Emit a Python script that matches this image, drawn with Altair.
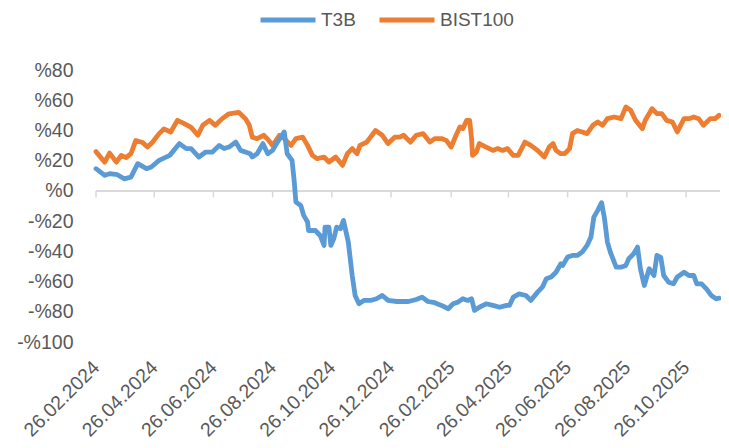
import altair as alt
import pandas as pd

# ---------------- data ----------------
T3B_DATES = [
    "2024-02-26", "2024-03-06", "2024-03-11", "2024-03-19", "2024-03-26", "2024-04-02",
    "2024-04-09", "2024-04-18", "2024-04-23", "2024-05-01", "2024-05-12", "2024-05-22",
    "2024-05-29", "2024-06-03", "2024-06-11", "2024-06-18", "2024-06-25", "2024-07-02",
    "2024-07-07", "2024-07-12", "2024-07-19", "2024-07-24", "2024-08-03", "2024-08-05",
    "2024-08-10", "2024-08-16", "2024-08-21", "2024-08-26", "2024-08-31", "2024-09-07",
    "2024-09-10", "2024-09-15", "2024-09-17", "2024-09-19", "2024-09-24", "2024-09-27",
    "2024-10-01", "2024-10-02", "2024-10-09", "2024-10-14", "2024-10-18", "2024-10-19",
    "2024-10-23", "2024-10-25", "2024-10-28", "2024-10-31", "2024-11-04", "2024-11-07",
    "2024-11-12", "2024-11-16", "2024-11-19", "2024-11-23", "2024-11-28", "2024-12-05",
    "2024-12-11", "2024-12-17", "2024-12-23", "2025-01-01", "2025-01-13", "2025-01-21",
    "2025-01-27", "2025-02-02", "2025-02-09", "2025-02-16", "2025-02-23", "2025-02-28",
    "2025-03-05", "2025-03-10", "2025-03-15", "2025-03-19", "2025-03-22", "2025-03-27",
    "2025-04-03", "2025-04-10", "2025-04-17", "2025-04-24", "2025-04-27", "2025-05-01",
    "2025-05-07", "2025-05-14", "2025-05-19", "2025-05-26", "2025-05-31", "2025-06-04",
    "2025-06-09", "2025-06-14", "2025-06-19", "2025-06-21", "2025-06-26", "2025-07-01",
    "2025-07-06", "2025-07-11", "2025-07-16", "2025-07-20", "2025-07-23", "2025-07-27",
    "2025-07-31", "2025-08-03", "2025-08-06", "2025-08-09", "2025-08-15", "2025-08-20",
    "2025-08-25", "2025-08-28", "2025-09-02", "2025-09-06", "2025-09-09", "2025-09-13",
    "2025-09-18", "2025-09-23", "2025-09-26", "2025-09-30", "2025-10-03", "2025-10-08",
    "2025-10-13", "2025-10-17", "2025-10-24", "2025-10-29", "2025-11-03", "2025-11-06",
    "2025-11-11", "2025-11-16", "2025-11-21", "2025-11-26", "2025-11-29",
]
T3B_VALUES = [
    14.7, 10.3, 11.4, 10.7, 8.0, 9.1,
    18.0, 14.7, 15.8, 20.2, 23.5, 31.3,
    28.0, 28.0, 22.4, 25.7, 25.7, 30.1,
    28.0, 29.0, 32.3, 26.8, 24.6, 22.4,
    24.6, 31.3, 24.6, 26.8, 32.3, 39.0,
    24.6, 20.2, 8.0, -7.4, -9.6, -16.2,
    -20.6, -26.2, -26.2, -29.5, -36.1, -24.0,
    -24.0, -36.1, -31.7, -24.0, -25.0, -19.5,
    -33.9, -56.0, -69.2, -74.7, -72.5, -72.5,
    -71.4, -69.2, -72.5, -73.2, -73.2, -71.9,
    -70.3, -73.2, -74.0, -75.8, -78.0, -74.7,
    -73.6, -71.4, -72.5, -71.4, -79.1, -77.0,
    -74.7, -75.8, -77.0, -75.8, -75.8, -70.3,
    -68.1, -69.2, -72.5, -67.0, -63.7, -58.1,
    -57.0, -53.8, -48.2, -49.3, -43.8, -42.7,
    -42.7, -40.5, -36.1, -30.6, -17.4, -12.9,
    -7.8, -18.4, -33.9, -40.5, -50.5, -50.5,
    -49.3, -44.9, -41.6, -37.2, -51.5, -62.6,
    -51.5, -56.0, -42.7, -44.0, -56.0, -60.4,
    -61.5, -57.0, -53.8, -56.0, -56.0, -61.5,
    -61.5, -64.8, -69.2, -71.4, -71.0,
]

BIST_DATES = [
    "2024-02-26", "2024-03-06", "2024-03-11", "2024-03-18", "2024-03-23", "2024-03-28",
    "2024-04-02", "2024-04-07", "2024-04-14", "2024-04-19", "2024-04-24", "2024-05-01",
    "2024-05-06", "2024-05-13", "2024-05-20", "2024-05-27", "2024-06-03", "2024-06-10",
    "2024-06-15", "2024-06-22", "2024-06-28", "2024-07-05", "2024-07-12", "2024-07-22",
    "2024-07-29", "2024-08-02", "2024-08-05", "2024-08-10", "2024-08-17", "2024-08-22",
    "2024-08-26", "2024-09-02", "2024-09-07", "2024-09-14", "2024-09-19", "2024-09-26",
    "2024-10-01", "2024-10-06", "2024-10-11", "2024-10-18", "2024-10-23", "2024-10-30",
    "2024-11-06", "2024-11-11", "2024-11-16", "2024-11-21", "2024-11-24", "2024-12-01",
    "2024-12-10", "2024-12-17", "2024-12-23", "2024-12-30", "2025-01-04", "2025-01-08",
    "2025-01-15", "2025-01-21", "2025-01-28", "2025-02-04", "2025-02-09", "2025-02-16",
    "2025-02-21", "2025-02-26", "2025-03-03", "2025-03-07", "2025-03-10", "2025-03-14",
    "2025-03-17", "2025-03-19", "2025-03-20", "2025-03-24", "2025-03-27", "2025-04-03",
    "2025-04-10", "2025-04-15", "2025-04-20", "2025-04-25", "2025-05-01", "2025-05-06",
    "2025-05-13", "2025-05-19", "2025-05-26", "2025-06-02", "2025-06-07", "2025-06-11",
    "2025-06-14", "2025-06-19", "2025-06-23", "2025-06-28", "2025-07-01", "2025-07-06",
    "2025-07-11", "2025-07-16", "2025-07-22", "2025-07-27", "2025-08-01", "2025-08-06",
    "2025-08-13", "2025-08-20", "2025-08-25", "2025-08-30", "2025-09-04", "2025-09-11",
    "2025-09-14", "2025-09-21", "2025-09-26", "2025-10-01", "2025-10-06", "2025-10-12",
    "2025-10-17", "2025-10-24", "2025-10-29", "2025-11-03", "2025-11-08", "2025-11-13",
    "2025-11-20", "2025-11-25", "2025-11-29",
]
BIST_VALUES = [
    26.0, 19.0, 25.0, 19.0, 23.5, 22.0,
    24.6, 33.4, 32.0, 29.0, 32.0, 37.9,
    41.0, 39.0, 46.7, 44.5, 42.0, 36.8,
    43.4, 46.7, 43.4, 47.8, 51.0, 52.0,
    47.8, 43.4, 35.6, 34.6, 36.8, 33.4,
    30.1, 36.8, 34.6, 30.1, 34.6, 35.6,
    30.1, 23.5, 21.3, 22.4, 19.1, 22.4,
    16.9, 24.6, 28.0, 24.6, 30.1, 32.3,
    40.0, 36.8, 31.3, 35.6, 35.6, 36.8,
    32.3, 36.8, 37.9, 32.3, 34.6, 34.6,
    33.4, 29.0, 36.8, 42.3, 41.2, 46.7,
    46.7, 34.6, 23.5, 25.7, 31.3, 29.0,
    26.8, 28.0, 26.8, 28.0, 23.5, 23.5,
    32.3, 30.1, 26.8, 22.4, 29.0, 31.3,
    26.8, 24.6, 24.6, 28.0, 37.9, 40.0,
    39.0, 37.9, 43.4, 45.6, 43.4, 47.8,
    48.9, 47.8, 55.5, 53.3, 46.7, 41.2,
    46.7, 54.4, 51.1, 51.1, 46.7, 45.6,
    39.0, 47.8, 47.8, 48.9, 47.8, 43.4,
    47.8, 47.8, 50.0,
]

SERIES = ["T3B", "BIST100"]
COLORS = ["#5B9BD5", "#ED7D31"]
TICK_DATES = [
    "2024-02-26", "2024-04-26", "2024-06-26", "2024-08-26", "2024-10-26", "2024-12-26",
    "2025-02-26", "2025-04-26", "2025-06-26", "2025-08-26", "2025-10-26",
]
X_DOMAIN = ["2024-02-26", "2025-11-30"]
Y_TICKS = [-100, -80, -60, -40, -20, 0, 20, 40, 60, 80]
Y_DOMAIN = [-100, 80]


def ms(s):
    return int(pd.Timestamp(s, tz="UTC").timestamp() * 1000)


FONT = "Liberation Sans"
TXT = "#595959"
AXIS_GRAY = "#D9D9D9"

df = pd.DataFrame({
    "date": [ms(d) for d in BIST_DATES] + [ms(d) for d in T3B_DATES],
    "value": BIST_VALUES + T3B_VALUES,
    "series": ["BIST100"] * len(BIST_DATES) + ["T3B"] * len(T3B_DATES),
})
ticks_df = pd.DataFrame({"date": [ms(d) for d in TICK_DATES]})

x_scale = alt.Scale(type="utc", domain=[ms(X_DOMAIN[0]), ms(X_DOMAIN[1])])
y_scale = alt.Scale(domain=Y_DOMAIN, nice=False, zero=False)

x_axis = alt.Axis(
    values=[ms(d) for d in TICK_DATES],
    labelExpr="utcFormat(datum.value, '%d.%m.%Y')",
    labelAngle=-45, labelAlign="right", labelBaseline="middle",
    labelPadding=22, ticks=False, domain=False, grid=False, title=None,
    labelFont=FONT, labelFontSize=19.5, labelColor=TXT, labelOverlap=False,
    labelFlush=False,
)
y_axis = alt.Axis(
    values=Y_TICKS,
    labelExpr="datum.value < 0 ? '-%' + abs(datum.value) : '%' + datum.value",
    grid=False, domain=False, ticks=False, labelPadding=23, title=None,
    labelFont=FONT, labelFontSize=19.5, labelColor=TXT, labelOverlap=False,
    labelFlush=False, labelBound=False,
)
color = alt.Color(
    "series:N",
    scale=alt.Scale(domain=SERIES, range=COLORS),
    legend=alt.Legend(
        orient="none", legendX=162, legendY=-61, direction="horizontal",
        title=None, symbolType="stroke", symbolStrokeWidth=5, symbolSize=3025,
        clipHeight=22,
        labelFont=FONT, labelFontSize=19, labelColor=TXT, columnPadding=21,
        labelOffset=3, padding=0,
    ),
)

base = alt.Chart(df).mark_line(
    strokeWidth=4.8, strokeCap="round", strokeJoin="round"
).encode(
    x=alt.X("date:T", scale=x_scale, axis=x_axis),
    y=alt.Y("value:Q", scale=y_scale, axis=y_axis),
    color=color,
)

bist_line = base.transform_filter(alt.datum.series == "BIST100")
t3b_line = base.transform_filter(alt.datum.series == "T3B")

zero_line = alt.Chart(df).mark_rule(color=AXIS_GRAY, strokeWidth=1.5).encode(
    y=alt.YDatum(0, type="quantitative", scale=y_scale, axis=y_axis)
)
tick_marks = alt.Chart(ticks_df).mark_rule(color=AXIS_GRAY, strokeWidth=1.5).encode(
    x=alt.X("date:T", scale=x_scale, axis=x_axis),
    y=alt.YDatum(0, type="quantitative", scale=y_scale, axis=y_axis),
    y2=alt.datum(-4.3),
)

chart = alt.layer(zero_line, tick_marks, bist_line, t3b_line).properties(
    width=624, height=272,
    padding={"left": 88, "top": 62, "right": 1, "bottom": 100},
    autosize=alt.AutoSizeParams(type="none"),
).configure(
    background="white",
    view=alt.ViewConfig(stroke=None),
    axis=alt.AxisConfig(labelOverlap=False, grid=False, domain=False, ticks=False),
)

chart.save("out.html", embed_options={"renderer": "svg", "actions": False})
